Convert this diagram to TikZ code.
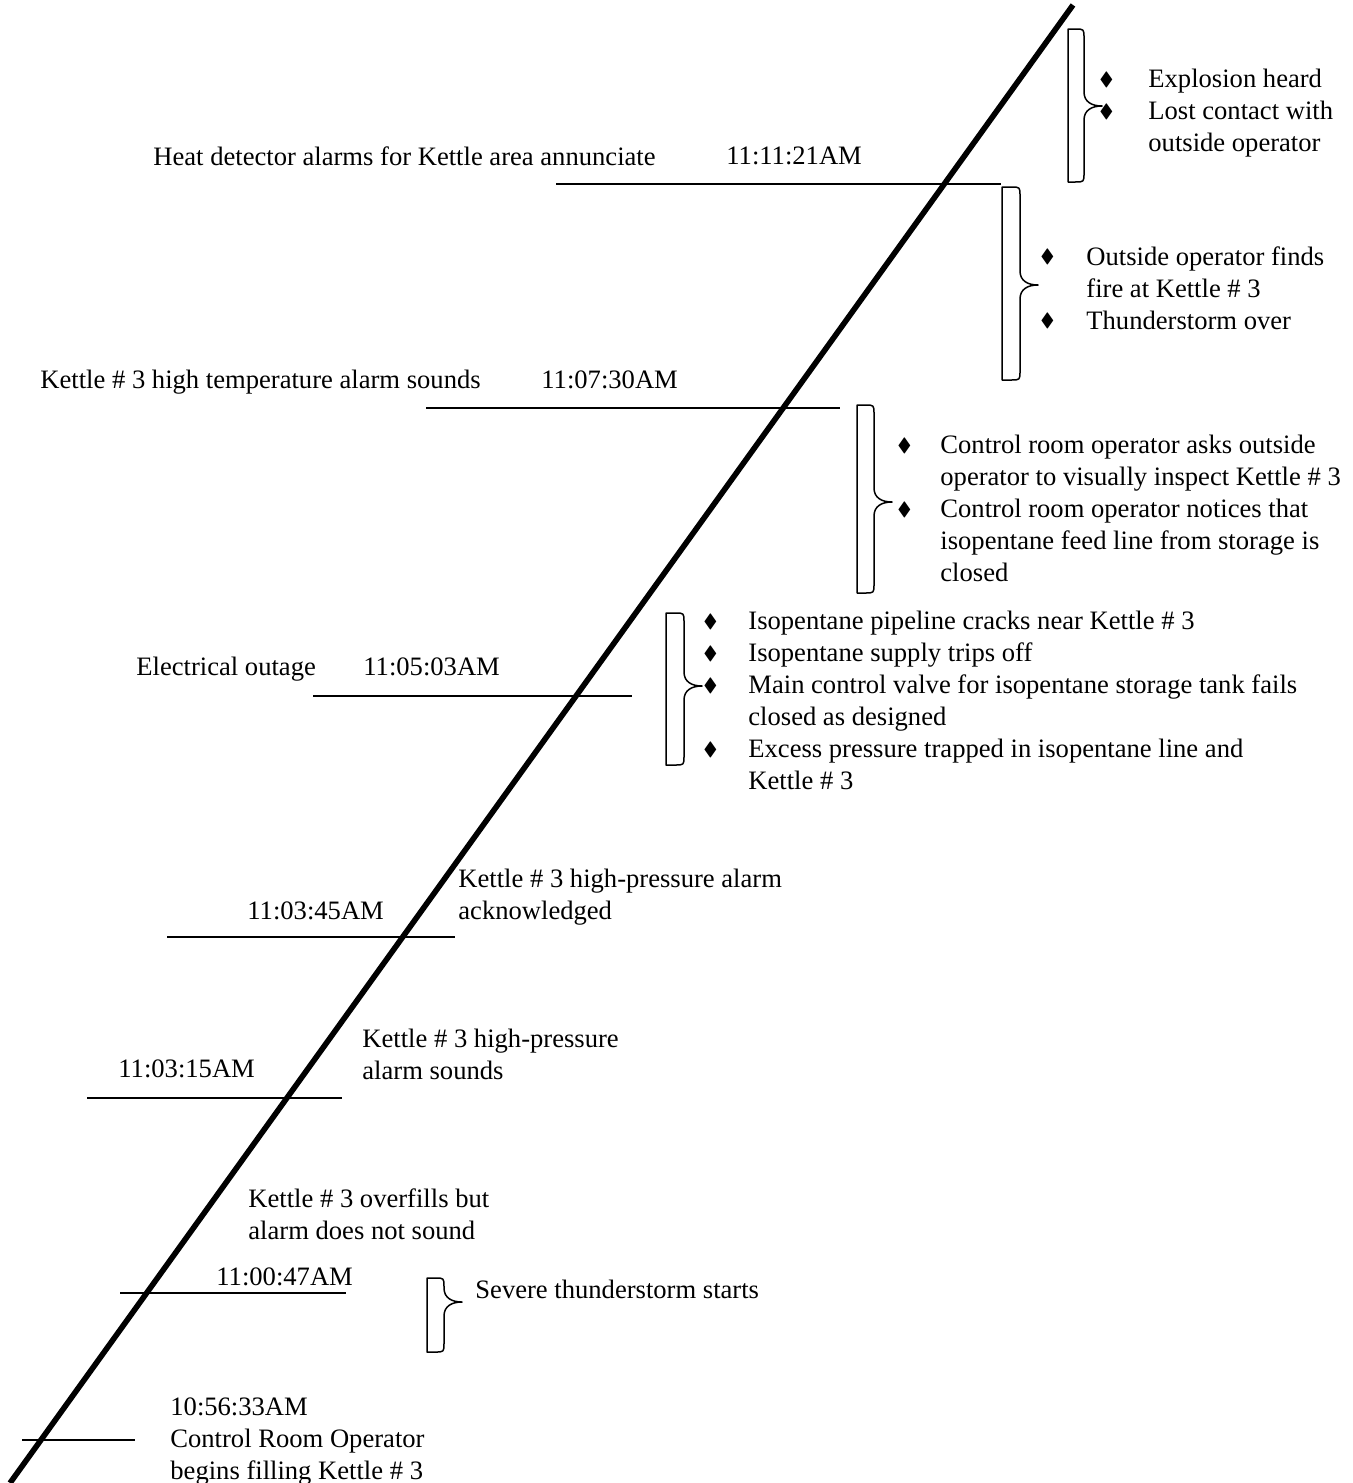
\documentclass[tikz,border=0pt]{standalone}
\usepackage{fontspec}
\setmainfont{Liberation Serif}
\usepackage{amssymb}

% bullet of a fixed width
\newcommand{\bul}[1]{\makebox[#1][l]{\raisebox{1.2pt}{\scalebox{.8}[.72]{$\blacklozenge$}}}}
% brace: left, right, top, bottom, tip
\newcommand{\ebrace}[5]{%
  \draw[brace] (#1,#3) -- ({#2-9},#3) .. controls (#2,#3) .. (#2,{#3+9})
    -- (#2,{#5-14}) .. controls (#2,{#5-4}) and ({#2+8},#5) .. ({#2+18},#5)
    .. controls ({#2+8},#5) and (#2,{#5+4}) .. (#2,{#5+14})
    -- (#2,{#4-9}) .. controls (#2,#4) .. ({#2-9},#4) -- (#1,#4) -- cycle;}

\begin{document}
\begin{tikzpicture}[x=.5pt,y=-.5pt,
    ev/.style={anchor=north west,inner sep=0,align=left,font=\fontsize{13.3}{16}\selectfont},
    axis/.style={draw,line width=2.8pt},
    tick/.style={draw,line width=1.1pt},
    brace/.style={draw,line width=.75pt,line join=round}
  ]
  \useasboundingbox (0,0) rectangle (1353,1483);

  %time axis
  \coordinate (t0) at (10,1483);
  \coordinate (t1) at (1073,5);
  \draw[axis] (t0) -- (t1);

  %ticks
  \draw[tick] (556,184) -- (1001,184);
  \draw[tick] (426,408) -- (840,408);
  \draw[tick] (313,696) -- (632,696);
  \draw[tick] (167,937) -- (455,937);
  \draw[tick] (87,1098) -- (342,1098);
  \draw[tick] (120,1293) -- (346,1293);
  \draw[tick] (22,1440) -- (135,1440);

  %events
  \node[ev] (heat) at (153,146) {Heat detector alarms for Kettle area annunciate};
  \node[ev] (t1121) at (726,146) {11:11:21AM};
  \node[ev] (hitemp) at (40,370) {Kettle \# 3 high temperature alarm sounds};
  \node[ev] (t0730) at (541,370) {11:07:30AM};
  \node[ev] (outage) at (136,657) {Electrical outage};
  \node[ev] (t0503) at (363,657) {11:05:03AM};
  \node[ev] (ackn) at (458,869) {Kettle \# 3 high-pressure alarm\\acknowledged};
  \node[ev] (t0345) at (247,901) {11:03:45AM};
  \node[ev] (hipress) at (362,1029) {Kettle \# 3 high-pressure\\alarm sounds};
  \node[ev] (t0315) at (118,1059) {11:03:15AM};
  \node[ev] (overfill) at (248,1188) {Kettle \# 3 overfills but\\alarm does not sound};
  \node[ev] (t0047) at (216,1267) {11:00:47AM};
  \node[ev] (fill) at (170,1397) {10:56:33AM\\Control Room Operator\\begins filling Kettle \# 3};

  %braces
  \ebrace{1068}{1084}{29}{182}{106}
  \ebrace{1002}{1020}{187}{380}{285}
  \ebrace{857}{874}{405}{593}{502}
  \ebrace{666}{684}{613}{765}{686}
  \ebrace{427}{444}{1278}{1352}{1302}

  %side notes
  \node[ev] (blast) at (1099,69) {\bul{24.5pt}Explosion heard\\
    \bul{24.5pt}Lost contact with\\\hspace*{24.5pt}outside operator};
  \node[ev] (found) at (1040,246) {\bul{23pt}Outside operator finds\\
    \hspace*{23pt}fire at Kettle \# 3\\\bul{23pt}Thunderstorm over};
  \node[ev] (inspect) at (897,435) {\bul{21.5pt}Control room operator asks outside\\
    \hspace*{21.5pt}operator to visually inspect Kettle \# 3\\
    \bul{21.5pt}Control room operator notices that\\
    \hspace*{21.5pt}isopentane feed line from storage is\\\hspace*{21.5pt}closed};
  \node[ev] (crack) at (703,611) {\bul{22.5pt}Isopentane pipeline cracks near Kettle \# 3\\
    \bul{22.5pt}Isopentane supply trips off\\
    \bul{22.5pt}Main control valve for isopentane storage tank fails\\
    \hspace*{22.5pt}closed as designed\\
    \bul{22.5pt}Excess pressure trapped in isopentane line and\\
    \hspace*{22.5pt}Kettle \# 3};
  \node[ev] (storm) at (475,1280) {Severe thunderstorm starts};
\end{tikzpicture}
\end{document}
